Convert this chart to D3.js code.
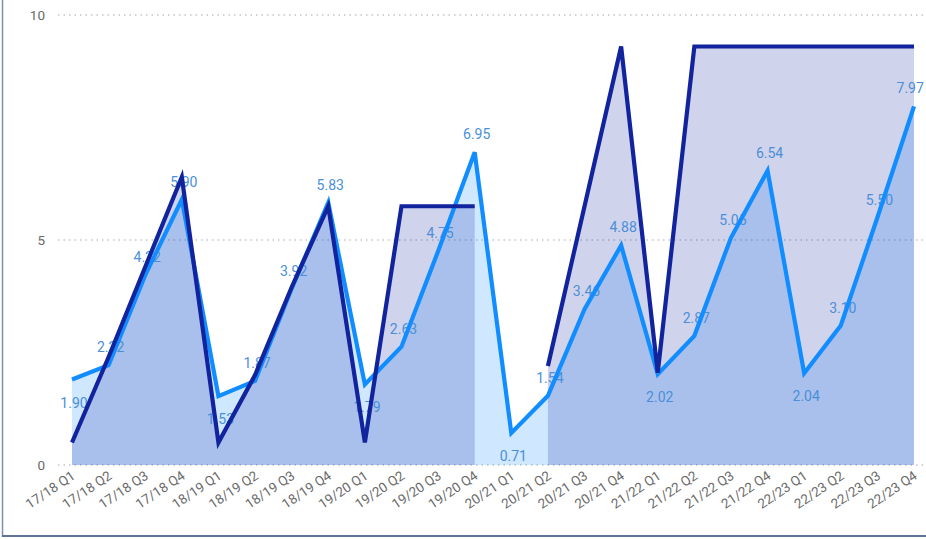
<!DOCTYPE html>
<html>
<head>
<meta charset="utf-8">
<script src="https://cdn.jsdelivr.net/npm/d3@7"></script>
<style>
  html, body { margin: 0; padding: 0; background: #fff; }
  svg { display: block; }
</style>
</head>
<body>
<svg id="chart" width="926" height="539"></svg>
<script>
const categories = [
  "17/18 Q1","17/18 Q2","17/18 Q3","17/18 Q4",
  "18/19 Q1","18/19 Q2","18/19 Q3","18/19 Q4",
  "19/20 Q1","19/20 Q2","19/20 Q3","19/20 Q4",
  "20/21 Q1","20/21 Q2","20/21 Q3","20/21 Q4",
  "21/22 Q1","21/22 Q2","21/22 Q3","21/22 Q4",
  "22/23 Q1","22/23 Q2","22/23 Q3","22/23 Q4"
];
const actualValues = [
  1.90, 2.22, 4.22, 5.90,
  1.53, 1.87, 3.92, 5.83,
  1.79, 2.63, 4.75, 6.95,
  0.71, 1.54, 3.46, 4.88,
  2.02, 2.87, 5.05, 6.54,
  2.04, 3.10, 5.50, 7.97
];
const targetValues = [
  0.5, 2.4, 4.4, 6.4,
  0.5, 2.0, 3.95, 5.75,
  0.5, 5.75, 5.75, 5.75,
  null, 2.2, 5.75, 9.3,
  2.05, 9.3, 9.3, 9.3,
  9.3, 9.3, 9.3, 9.3
];
const yTicks = [0, 5, 10];

const svg = d3.select("#chart");
const W = 926, H = 539;
const x = d3.scalePoint().domain(categories).range([72, 914]);
const y = d3.scaleLinear().domain([0, 10]).range([465, 15]);

const lightCol = "#118DFF";
const navyCol = "#12239E";
const font = "Roboto, 'DejaVu Sans', sans-serif";

// frame
svg.append("line").attr("x1", 2.5).attr("x2", 2.5).attr("y1", 0).attr("y2", 537)
  .attr("stroke", "#7b8fae").attr("stroke-width", 1.5);
svg.append("line").attr("x1", 2).attr("x2", W).attr("y1", 536).attr("y2", 536)
  .attr("stroke", "#5d7398").attr("stroke-width", 2);

// grid
svg.append("g").selectAll("line").data(yTicks).join("line")
  .attr("x1", 58).attr("x2", W)
  .attr("y1", d => y(d)).attr("y2", d => y(d))
  .attr("stroke", "#c4c4c4").attr("stroke-width", 1.3)
  .attr("stroke-dasharray", "1.5,4");

// y axis labels
const yAxis = d3.axisLeft(y).tickValues(yTicks).tickSize(0).tickPadding(0);
const gy = svg.append("g").attr("transform", "translate(45,0)").call(yAxis);
gy.select(".domain").remove();
gy.selectAll("text").attr("font-family", font)
  .attr("font-size", 13.5).attr("fill", "#6a6a6a");

// x axis labels
const xAxis = d3.axisBottom(x).tickSize(0).tickPadding(0);
const gx = svg.append("g").attr("transform", "translate(0,474)").call(xAxis);
gx.select(".domain").remove();
gx.selectAll("text")
  .attr("font-family", font)
  .attr("font-size", 13.5).attr("fill", "#6a6a6a")
  .attr("text-anchor", "end")
  .attr("dy", "0.35em")
  .attr("transform", "translate(1,0) rotate(-34)");

const lightData = categories.map((c, i) => ({c, v: actualValues[i]}));
const navyData = categories.map((c, i) => ({c, v: targetValues[i]}));

const area = d3.area().defined(d => d.v !== null)
  .x(d => x(d.c)).y0(y(0)).y1(d => y(d.v));
const line = d3.line().defined(d => d.v !== null)
  .x(d => x(d.c)).y(d => y(d.v));

svg.append("path").datum(lightData).attr("d", area)
  .attr("fill", lightCol).attr("fill-opacity", 0.2);
svg.append("path").datum(navyData).attr("d", area)
  .attr("fill", navyCol).attr("fill-opacity", 0.2);

// data labels (under lines)
const isMin = (i) => {
  const v = actualValues[i];
  const p = i > 0 ? actualValues[i - 1] : Infinity;
  const n = i < actualValues.length - 1 ? actualValues[i + 1] : -Infinity;
  return v < p && v < n;
};
const lbl = svg.append("g").selectAll("text").data(lightData).join("text")
  .attr("x", d => x(d.c) + 2)
  .attr("y", (d, i) => isMin(i) ? y(d.v) + 28 : y(d.v) - 13)
  .attr("text-anchor", "middle")
  .attr("font-family", font)
  .attr("font-size", 14)
  .attr("fill", "#4a8fd8")
  .text(d => d.v.toFixed(2));
// keep labels inside the right edge
lbl.each(function() {
  const bb = this.getBBox();
  if (bb.x + bb.width > W - 2) {
    d3.select(this).attr("x", +d3.select(this).attr("x") - (bb.x + bb.width - (W - 2)));
  }
});

svg.append("path").datum(lightData).attr("d", line)
  .attr("fill", "none").attr("stroke", lightCol).attr("stroke-width", 4.2)
  .attr("stroke-linejoin", "miter");
svg.append("path").datum(navyData).attr("d", line)
  .attr("fill", "none").attr("stroke", navyCol).attr("stroke-width", 4.2)
  .attr("stroke-linejoin", "miter");
</script>
</body>
</html>
